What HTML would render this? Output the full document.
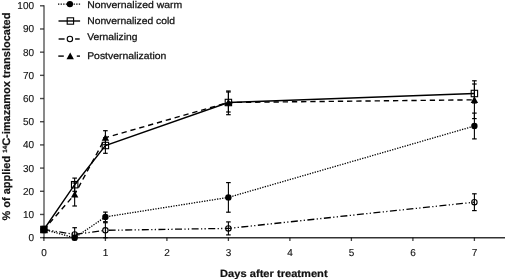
<!DOCTYPE html>
<html><head><meta charset="utf-8"><style>
html,body{margin:0;padding:0;background:#fff;}
body{width:505px;height:279px;overflow:hidden;}
svg{display:block;will-change:transform;filter:blur(0.3px);}
text{font-family:"Liberation Sans",sans-serif;fill:#111;stroke:#111;stroke-width:0.3px;text-rendering:geometricPrecision;}
.t{font-size:10.1px;stroke-width:0.12px;text-rendering:geometricPrecision;}
.l{font-size:9.7px;stroke-width:0.25px;}
.b{font-size:10.4px;font-weight:bold;stroke-width:0.2px;}
</style></head><body>
<svg width="505" height="279" viewBox="0 0 505 279">
<rect width="505" height="279" fill="#fff"/>
<line x1="44.00" y1="5.20" x2="44.00" y2="237.65" stroke="#000" stroke-width="1.5" stroke-opacity="0.62"/>
<line x1="43.25" y1="237.65" x2="505.00" y2="237.65" stroke="#000" stroke-width="1.5" stroke-opacity="0.8"/>
<line x1="40.00" y1="237.65" x2="43.90" y2="237.65" stroke="#000" stroke-width="1.4" stroke-opacity="0.7"/>
<line x1="40.00" y1="214.46" x2="43.90" y2="214.46" stroke="#000" stroke-width="1.4" stroke-opacity="0.7"/>
<line x1="40.00" y1="191.28" x2="43.90" y2="191.28" stroke="#000" stroke-width="1.4" stroke-opacity="0.7"/>
<line x1="40.00" y1="168.09" x2="43.90" y2="168.09" stroke="#000" stroke-width="1.4" stroke-opacity="0.7"/>
<line x1="40.00" y1="144.91" x2="43.90" y2="144.91" stroke="#000" stroke-width="1.4" stroke-opacity="0.7"/>
<line x1="40.00" y1="121.72" x2="43.90" y2="121.72" stroke="#000" stroke-width="1.4" stroke-opacity="0.7"/>
<line x1="40.00" y1="98.53" x2="43.90" y2="98.53" stroke="#000" stroke-width="1.4" stroke-opacity="0.7"/>
<line x1="40.00" y1="75.35" x2="43.90" y2="75.35" stroke="#000" stroke-width="1.4" stroke-opacity="0.7"/>
<line x1="40.00" y1="52.16" x2="43.90" y2="52.16" stroke="#000" stroke-width="1.4" stroke-opacity="0.7"/>
<line x1="40.00" y1="28.98" x2="43.90" y2="28.98" stroke="#000" stroke-width="1.4" stroke-opacity="0.7"/>
<line x1="40.00" y1="5.79" x2="43.90" y2="5.79" stroke="#000" stroke-width="1.4" stroke-opacity="0.7"/>
<line x1="43.90" y1="237.65" x2="43.90" y2="241.00" stroke="#000" stroke-width="1.3" stroke-opacity="0.75"/>
<line x1="105.40" y1="237.65" x2="105.40" y2="241.00" stroke="#000" stroke-width="1.3" stroke-opacity="0.75"/>
<line x1="166.90" y1="237.65" x2="166.90" y2="241.00" stroke="#000" stroke-width="1.3" stroke-opacity="0.75"/>
<line x1="228.40" y1="237.65" x2="228.40" y2="241.00" stroke="#000" stroke-width="1.3" stroke-opacity="0.75"/>
<line x1="289.90" y1="237.65" x2="289.90" y2="241.00" stroke="#000" stroke-width="1.3" stroke-opacity="0.75"/>
<line x1="351.40" y1="237.65" x2="351.40" y2="241.00" stroke="#000" stroke-width="1.3" stroke-opacity="0.75"/>
<line x1="412.90" y1="237.65" x2="412.90" y2="241.00" stroke="#000" stroke-width="1.3" stroke-opacity="0.75"/>
<line x1="474.40" y1="237.65" x2="474.40" y2="241.00" stroke="#000" stroke-width="1.3" stroke-opacity="0.75"/>
<text transform="translate(34.0,241.15) scale(0.99,1)" text-anchor="end" class="t">0</text>
<text transform="translate(34.0,217.96) scale(0.99,1)" text-anchor="end" class="t">10</text>
<text transform="translate(34.0,194.78) scale(0.99,1)" text-anchor="end" class="t">20</text>
<text transform="translate(34.0,171.59) scale(0.99,1)" text-anchor="end" class="t">30</text>
<text transform="translate(34.0,148.41) scale(0.99,1)" text-anchor="end" class="t">40</text>
<text transform="translate(34.0,125.22) scale(0.99,1)" text-anchor="end" class="t">50</text>
<text transform="translate(34.0,102.03) scale(0.99,1)" text-anchor="end" class="t">60</text>
<text transform="translate(34.0,78.85) scale(0.99,1)" text-anchor="end" class="t">70</text>
<text transform="translate(34.0,55.66) scale(0.99,1)" text-anchor="end" class="t">80</text>
<text transform="translate(34.0,32.48) scale(0.99,1)" text-anchor="end" class="t">90</text>
<text transform="translate(34.0,9.29) scale(0.99,1)" text-anchor="end" class="t">100</text>
<text transform="translate(44.00,255.7) scale(0.99,1)" text-anchor="middle" class="t">0</text>
<text transform="translate(105.50,255.7) scale(0.99,1)" text-anchor="middle" class="t">1</text>
<text transform="translate(167.00,255.7) scale(0.99,1)" text-anchor="middle" class="t">2</text>
<text transform="translate(228.50,255.7) scale(0.99,1)" text-anchor="middle" class="t">3</text>
<text transform="translate(290.00,255.7) scale(0.99,1)" text-anchor="middle" class="t">4</text>
<text transform="translate(351.50,255.7) scale(0.99,1)" text-anchor="middle" class="t">5</text>
<text transform="translate(413.00,255.7) scale(0.99,1)" text-anchor="middle" class="t">6</text>
<text transform="translate(474.50,255.7) scale(0.99,1)" text-anchor="middle" class="t">7</text>
<line x1="43.90" y1="227.50" x2="43.90" y2="231.50" stroke="#000" stroke-width="1.1" />
<line x1="41.60" y1="227.50" x2="46.20" y2="227.50" stroke="#000" stroke-width="1.2" />
<line x1="41.60" y1="231.50" x2="46.20" y2="231.50" stroke="#000" stroke-width="1.2" />
<line x1="74.65" y1="235.80" x2="74.65" y2="239.80" stroke="#000" stroke-width="1.1" />
<line x1="72.35" y1="235.80" x2="76.95" y2="235.80" stroke="#000" stroke-width="1.2" />
<line x1="72.35" y1="239.80" x2="76.95" y2="239.80" stroke="#000" stroke-width="1.2" />
<line x1="105.40" y1="212.10" x2="105.40" y2="221.70" stroke="#000" stroke-width="1.1" />
<line x1="103.10" y1="212.10" x2="107.70" y2="212.10" stroke="#000" stroke-width="1.2" />
<line x1="103.10" y1="221.70" x2="107.70" y2="221.70" stroke="#000" stroke-width="1.2" />
<line x1="228.40" y1="182.60" x2="228.40" y2="212.20" stroke="#000" stroke-width="1.1" />
<line x1="226.10" y1="182.60" x2="230.70" y2="182.60" stroke="#000" stroke-width="1.2" />
<line x1="226.10" y1="212.20" x2="230.70" y2="212.20" stroke="#000" stroke-width="1.2" />
<line x1="474.40" y1="113.10" x2="474.40" y2="138.90" stroke="#000" stroke-width="1.1" />
<line x1="472.10" y1="113.10" x2="476.70" y2="113.10" stroke="#000" stroke-width="1.2" />
<line x1="472.10" y1="138.90" x2="476.70" y2="138.90" stroke="#000" stroke-width="1.2" />
<line x1="43.90" y1="226.50" x2="43.90" y2="232.50" stroke="#000" stroke-width="1.1" />
<line x1="41.60" y1="226.50" x2="46.20" y2="226.50" stroke="#000" stroke-width="1.2" />
<line x1="41.60" y1="232.50" x2="46.20" y2="232.50" stroke="#000" stroke-width="1.2" />
<line x1="74.65" y1="178.10" x2="74.65" y2="191.30" stroke="#000" stroke-width="1.1" />
<line x1="72.35" y1="178.10" x2="76.95" y2="178.10" stroke="#000" stroke-width="1.2" />
<line x1="72.35" y1="191.30" x2="76.95" y2="191.30" stroke="#000" stroke-width="1.2" />
<line x1="105.40" y1="137.70" x2="105.40" y2="153.30" stroke="#000" stroke-width="1.1" />
<line x1="103.10" y1="137.70" x2="107.70" y2="137.70" stroke="#000" stroke-width="1.2" />
<line x1="103.10" y1="153.30" x2="107.70" y2="153.30" stroke="#000" stroke-width="1.2" />
<line x1="228.40" y1="92.00" x2="228.40" y2="112.00" stroke="#000" stroke-width="1.1" />
<line x1="226.10" y1="92.00" x2="230.70" y2="92.00" stroke="#000" stroke-width="1.2" />
<line x1="226.10" y1="112.00" x2="230.70" y2="112.00" stroke="#000" stroke-width="1.2" />
<line x1="474.40" y1="84.00" x2="474.40" y2="103.00" stroke="#000" stroke-width="1.1" />
<line x1="472.10" y1="84.00" x2="476.70" y2="84.00" stroke="#000" stroke-width="1.2" />
<line x1="472.10" y1="103.00" x2="476.70" y2="103.00" stroke="#000" stroke-width="1.2" />
<line x1="43.90" y1="227.50" x2="43.90" y2="231.50" stroke="#000" stroke-width="1.1" />
<line x1="41.60" y1="227.50" x2="46.20" y2="227.50" stroke="#000" stroke-width="1.2" />
<line x1="41.60" y1="231.50" x2="46.20" y2="231.50" stroke="#000" stroke-width="1.2" />
<line x1="74.65" y1="227.70" x2="74.65" y2="237.40" stroke="#000" stroke-width="1.1" />
<line x1="72.35" y1="227.70" x2="76.95" y2="227.70" stroke="#000" stroke-width="1.2" />
<line x1="72.35" y1="237.40" x2="76.95" y2="237.40" stroke="#000" stroke-width="1.2" />
<line x1="105.40" y1="222.70" x2="105.40" y2="237.70" stroke="#000" stroke-width="1.1" />
<line x1="103.10" y1="222.70" x2="107.70" y2="222.70" stroke="#000" stroke-width="1.2" />
<line x1="103.10" y1="237.70" x2="107.70" y2="237.70" stroke="#000" stroke-width="1.2" />
<line x1="228.40" y1="221.90" x2="228.40" y2="234.90" stroke="#000" stroke-width="1.1" />
<line x1="226.10" y1="221.90" x2="230.70" y2="221.90" stroke="#000" stroke-width="1.2" />
<line x1="226.10" y1="234.90" x2="230.70" y2="234.90" stroke="#000" stroke-width="1.2" />
<line x1="474.40" y1="193.80" x2="474.40" y2="210.60" stroke="#000" stroke-width="1.1" />
<line x1="472.10" y1="193.80" x2="476.70" y2="193.80" stroke="#000" stroke-width="1.2" />
<line x1="472.10" y1="210.60" x2="476.70" y2="210.60" stroke="#000" stroke-width="1.2" />
<line x1="43.90" y1="226.50" x2="43.90" y2="232.50" stroke="#000" stroke-width="1.1" />
<line x1="41.60" y1="226.50" x2="46.20" y2="226.50" stroke="#000" stroke-width="1.2" />
<line x1="41.60" y1="232.50" x2="46.20" y2="232.50" stroke="#000" stroke-width="1.2" />
<line x1="74.65" y1="183.00" x2="74.65" y2="206.00" stroke="#000" stroke-width="1.1" />
<line x1="72.35" y1="183.00" x2="76.95" y2="183.00" stroke="#000" stroke-width="1.2" />
<line x1="72.35" y1="206.00" x2="76.95" y2="206.00" stroke="#000" stroke-width="1.2" />
<line x1="105.40" y1="130.70" x2="105.40" y2="144.70" stroke="#000" stroke-width="1.1" />
<line x1="103.10" y1="130.70" x2="107.70" y2="130.70" stroke="#000" stroke-width="1.2" />
<line x1="103.10" y1="144.70" x2="107.70" y2="144.70" stroke="#000" stroke-width="1.2" />
<line x1="228.40" y1="91.00" x2="228.40" y2="114.70" stroke="#000" stroke-width="1.1" />
<line x1="226.10" y1="91.00" x2="230.70" y2="91.00" stroke="#000" stroke-width="1.2" />
<line x1="226.10" y1="114.70" x2="230.70" y2="114.70" stroke="#000" stroke-width="1.2" />
<line x1="474.40" y1="80.80" x2="474.40" y2="118.60" stroke="#000" stroke-width="1.1" />
<line x1="472.10" y1="80.80" x2="476.70" y2="80.80" stroke="#000" stroke-width="1.2" />
<line x1="472.10" y1="118.60" x2="476.70" y2="118.60" stroke="#000" stroke-width="1.2" />
<polyline points="43.90,229.50 74.65,234.40 105.40,230.30 228.40,228.40 474.40,202.20" fill="none" stroke="#000" stroke-width="1.3" stroke-dasharray="7.0 2.4 1.2 2.3 1.2 2.5" stroke-dashoffset="1.0"/>
<polyline points="43.90,229.50 74.65,237.80 105.40,216.90 228.40,197.40 474.40,126.00" fill="none" stroke="#000" stroke-width="1.3" stroke-dasharray="1.3 1.3" stroke-dashoffset="0"/>
<polyline points="43.90,229.50 74.65,194.50 105.40,137.70 228.40,102.50 474.40,99.80" fill="none" stroke="#000" stroke-width="1.4" stroke-dasharray="5.3 3.89" stroke-dashoffset="0.64"/>
<polyline points="43.90,229.50 74.65,184.70 105.40,145.50 228.40,102.50 474.40,93.50" fill="none" stroke="#000" stroke-width="1.4" stroke-dasharray="none" stroke-dashoffset="0"/>
<circle cx="43.90" cy="229.50" r="2.7" fill="none" stroke="#000" stroke-width="1.1"/>
<circle cx="74.65" cy="234.40" r="2.7" fill="none" stroke="#000" stroke-width="1.1"/>
<circle cx="105.40" cy="230.30" r="2.7" fill="none" stroke="#000" stroke-width="1.1"/>
<circle cx="228.40" cy="228.40" r="2.7" fill="none" stroke="#000" stroke-width="1.1"/>
<circle cx="474.40" cy="202.20" r="2.7" fill="none" stroke="#000" stroke-width="1.1"/>
<circle cx="43.90" cy="229.50" r="3.2" fill="#000"/>
<circle cx="74.65" cy="237.80" r="3.2" fill="#000"/>
<circle cx="105.40" cy="216.90" r="3.2" fill="#000"/>
<circle cx="228.40" cy="197.40" r="3.2" fill="#000"/>
<circle cx="474.40" cy="126.00" r="3.2" fill="#000"/>
<rect x="40.70" y="226.30" width="6.4" height="6.4" fill="none" stroke="#000" stroke-width="1.1"/>
<rect x="71.45" y="181.50" width="6.4" height="6.4" fill="none" stroke="#000" stroke-width="1.1"/>
<rect x="102.20" y="142.30" width="6.4" height="6.4" fill="none" stroke="#000" stroke-width="1.1"/>
<rect x="225.20" y="99.30" width="6.4" height="6.4" fill="none" stroke="#000" stroke-width="1.1"/>
<rect x="471.20" y="90.30" width="6.4" height="6.4" fill="none" stroke="#000" stroke-width="1.1"/>
<path d="M43.90,226.00 L47.60,232.60 L40.20,232.60 Z" fill="#000"/>
<path d="M74.65,191.00 L78.35,197.60 L70.95,197.60 Z" fill="#000"/>
<path d="M105.40,134.20 L109.10,140.80 L101.70,140.80 Z" fill="#000"/>
<path d="M228.40,99.00 L232.10,105.60 L224.70,105.60 Z" fill="#000"/>
<path d="M474.40,96.30 L478.10,102.90 L470.70,102.90 Z" fill="#000"/>
<line x1="58" y1="4.1" x2="80.6" y2="4.1" stroke="#000" stroke-width="1.4" stroke-dasharray="1.3 1.3"/>
<circle cx="69.90" cy="4.10" r="3.2" fill="#000"/>
<text x="87.2" y="8.00" class="l" textLength="95.0" lengthAdjust="spacingAndGlyphs">Nonvernalized warm</text>
<line x1="58.50" y1="21.00" x2="80.10" y2="21.00" stroke="#000" stroke-width="1.4" />
<rect x="67.20" y="17.80" width="6.4" height="6.4" fill="none" stroke="#000" stroke-width="1.1"/>
<text x="87.2" y="23.65" class="l" textLength="87.8" lengthAdjust="spacingAndGlyphs">Nonvernalized cold</text>
<line x1="58.60" y1="39.00" x2="64.60" y2="39.00" stroke="#000" stroke-width="1.4" />
<line x1="75.10" y1="39.00" x2="79.70" y2="39.00" stroke="#000" stroke-width="1.4" />
<circle cx="69.90" cy="39.00" r="2.7" fill="none" stroke="#000" stroke-width="1.1"/>
<text x="87.2" y="40.30" class="l" textLength="50.3" lengthAdjust="spacingAndGlyphs">Vernalizing</text>
<line x1="58.30" y1="56.10" x2="63.80" y2="56.10" stroke="#000" stroke-width="1.4" />
<line x1="76.80" y1="56.10" x2="80.00" y2="56.10" stroke="#000" stroke-width="1.4" />
<path d="M70.20,52.60 L73.90,59.20 L66.50,59.20 Z" fill="#000"/>
<text x="87.2" y="59.40" class="l" textLength="79.1" lengthAdjust="spacingAndGlyphs">Postvernalization</text>
<text x="220.1" y="276.8" class="b" textLength="107.5" lengthAdjust="spacingAndGlyphs">Days after treatment</text>
<text transform="translate(10.4,220.6) rotate(-90)" x="0" y="0" class="b" style="font-size:11px" textLength="208" lengthAdjust="spacingAndGlyphs">% of applied <tspan font-size="6.2" dy="-3.3">14</tspan><tspan dy="3.3">C-imazamox translocated</tspan></text>
</svg>
</body></html>
